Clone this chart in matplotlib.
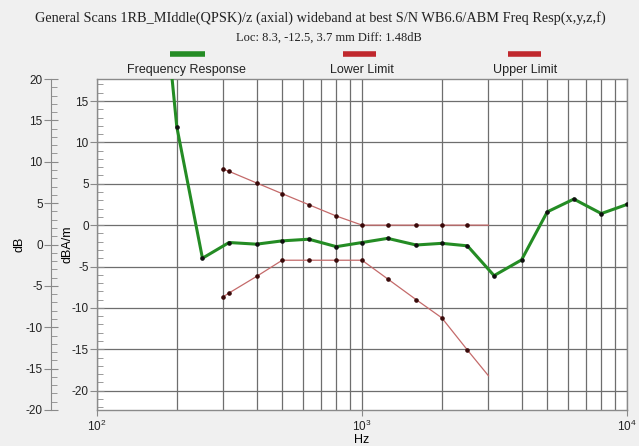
import matplotlib
matplotlib.use("Agg")
import matplotlib.pyplot as plt
from matplotlib.lines import Line2D
from matplotlib.ticker import MultipleLocator, LogLocator, NullFormatter

# ---------------- data ----------------
resp_hz = [160, 200, 250, 315, 400, 500, 630, 800, 1000, 1250, 1600, 2000,
           2500, 3150, 4000, 5000, 6300, 8000, 10000]
resp_val = [43.6, 11.9, -4.0, -2.1, -2.3, -1.9, -1.7, -2.6, -2.1, -1.6, -2.4,
            -2.2, -2.5, -6.1, -4.2, 1.6, 3.15, 1.4, 2.5]

limit_hz = [300, 315, 400, 500, 630, 800, 1000, 1250, 1600, 2000, 2500, 3000]
upper_val = [6.75, 6.5, 5.1, 3.8, 2.47, 1.1, 0.0, 0.0, 0.0, 0.0, 0.0, 0.0]
lower_val = [-8.64, -8.2, -6.2, -4.24, -4.24, -4.24, -4.24, -6.5, -9.0,
             -11.2, -15.1, -18.2]

title1 = "General Scans 1RB_MIddle(QPSK)/z (axial) wideband at best S/N WB6.6/ABM Freq Resp(x,y,z,f)"
title2 = "Loc: 8.3, -12.5, 3.7 mm Diff: 1.48dB"
legend_labels = ["Frequency Response", "Lower Limit", "Upper Limit"]

# ---------------- styling ----------------
BG = "#f0f0f0"
GREEN = "#248c24"
RED = "#c0282d"
LIMRED = "#c46a6a"
GRID = "#6e6e6e"
SPINE = "#8a8a8a"
SANS = ["Liberation Sans", "DejaVu Sans"]
SERIF = ["Liberation Serif", "DejaVu Serif"]

plt.rcParams["font.family"] = SANS
plt.rcParams["axes.unicode_minus"] = False
plt.rcParams["mathtext.fontset"] = "custom"
plt.rcParams["mathtext.rm"] = "Liberation Sans"

W, H = 639, 446
fig = plt.figure(figsize=(W / 100, H / 100), dpi=100, facecolor=BG)

L, R, T, B = 97, 627, 79, 410
ax = fig.add_axes([L / W, 1 - B / H, (R - L) / W, (B - T) / H])
ax.set_facecolor("white")
ax.set_xscale("log")
ax.set_xlim(100, 10000)
ax.set_ylim(-22.34, 17.66)

# grid
ax.xaxis.set_major_locator(LogLocator(base=10, numticks=5))
ax.xaxis.set_minor_locator(LogLocator(base=10, subs=range(2, 10), numticks=20))
ax.xaxis.set_minor_formatter(NullFormatter())
ax.yaxis.set_major_locator(MultipleLocator(5))
ax.yaxis.set_minor_locator(MultipleLocator(1))
ax.grid(True, which="both", axis="x", color=GRID, lw=0.9)
ax.grid(True, which="major", axis="y", color=GRID, lw=0.9)
ax.set_axisbelow(True)

for s in ax.spines.values():
    s.set_color(SPINE)
    s.set_linewidth(1.0)

ax.tick_params(axis="y", which="major", direction="inout", length=10,
               color=SPINE, labelsize=8.5, labelcolor="#222222", pad=1)
ax.tick_params(axis="y", which="minor", direction="in", length=4, color=SPINE)
ax.tick_params(axis="x", which="major", direction="out", length=4,
               color=SPINE, labelsize=8.5, labelcolor="#222222", pad=2)
ax.tick_params(axis="x", which="minor", length=0)

# data lines
ax.plot(limit_hz, upper_val, color=LIMRED, lw=0.9, zorder=3)
ax.plot(limit_hz[:-1], upper_val[:-1], ls="none", marker="o", ms=2.3,
        color="#3a0a0a", zorder=4)
ax.plot(limit_hz, lower_val, color=LIMRED, lw=0.9, zorder=3)
ax.plot(limit_hz[:-1], lower_val[:-1], ls="none", marker="o", ms=2.3,
        color="#3a0a0a", zorder=4)
ax.plot(resp_hz, resp_val, color=GREEN, lw=2.2, zorder=5)
ax.plot(resp_hz, resp_val, ls="none", marker="o", ms=2.3, color="#101010",
        zorder=6)

ax.set_xlabel("Hz", fontsize=9, labelpad=0)
ax.set_ylabel("dBA/m", fontsize=9, labelpad=-1.6)

# outer dB axis
ax2 = ax.twinx()
ax2.set_ylim(-20, 20)
ax2.yaxis.set_ticks_position("left")
ax2.yaxis.set_label_position("left")
ax2.spines["left"].set_position(("outward", 46 * 0.72))
for k in ["right", "top", "bottom"]:
    ax2.spines[k].set_visible(False)
ax2.spines["left"].set_color(SPINE)
ax2.yaxis.set_major_locator(MultipleLocator(5))
ax2.yaxis.set_minor_locator(MultipleLocator(1))
ax2.tick_params(axis="y", which="major", direction="inout", length=10,
                color=SPINE, labelsize=8.5, labelcolor="#222222", pad=1)
ax2.tick_params(axis="y", which="minor", direction="in", length=4, color=SPINE)
ax2.set_ylabel("dB", fontsize=9, labelpad=-0.3)

# titles
fig.text(320 / W, 1 - 18 / H, title1, ha="center", va="center",
         fontsize=10.3, family=SERIF, color="#222222")
fig.text(329 / W, 1 - 38 / H, title2, ha="center", va="center",
         fontsize=9, family=SERIF, color="#222222")

# legend
bars = [(170, 205, GREEN), (343, 376, RED), (508, 541, RED)]
centers = [186, 362, 525]
for (x0, x1, c), cx, lab in zip(bars, centers, legend_labels):
    fig.add_artist(Line2D([x0 / W, x1 / W], [1 - 54 / H, 1 - 54 / H],
                          color=c, lw=4, solid_capstyle="butt"))
    fig.text(cx / W, 1 - 70 / H, lab, ha="center", va="center",
             fontsize=9, color="#222222")

fig.savefig("out.png", dpi=100, facecolor=BG)
